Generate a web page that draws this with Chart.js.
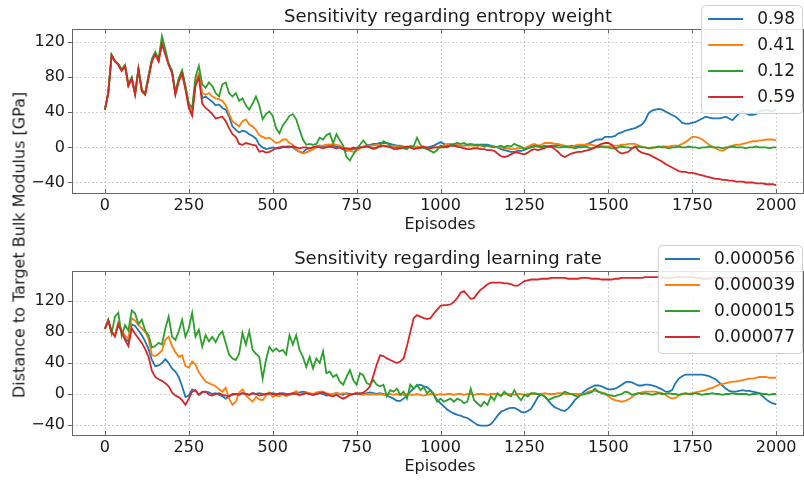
<!DOCTYPE html>
<html lang="en">
<head>
    <meta charset="UTF-8">
    <title>Sensitivity</title>
    <script src="https://cdn.jsdelivr.net/npm/chart.js"></script>
    <style>
        body { margin: 0; background: #fff; overflow: hidden; }
        #wrap { position: relative; width: 804px; height: 480px; }
        canvas { position: absolute; left: 0; }
        #ylabel {
            position: absolute; left: 19px; top: 245px;
            transform: translate(-50%, -50%) rotate(-90deg);
            font: 16px "DejaVu Sans", sans-serif; color: #1a1a1a; white-space: nowrap;
        }
    </style>
</head>
<body>
<div id="wrap">
    <canvas id="entropyChart" width="804" height="240" style="top:0"></canvas>
    <canvas id="lrChart" width="804" height="240" style="top:240px"></canvas>
    <div id="ylabel">Distance to Target Bulk Modulus [GPa]</div>
</div>

<script>
    // episodes every 10 steps, 0..2000
    const episodes = Array.from({length: 201}, (_, i) => i * 10);
    const xTicks = [0, 250, 500, 750, 1000, 1250, 1500, 1750, 2000];
    const yTicks = [-40, 0, 40, 80, 120];
    const colors = ['#1f77b4', '#ff7f0e', '#2ca02c', '#d62728'];

    // top panel: entropy weight
    const entLabels = ['0.98', '0.41', '0.12', '0.59'];
    const ent098 = [
        43, 62, 105, 98, 95, 88, 93, 71, 79, 61,
        89, 65, 61, 80, 99, 107, 99, 120, 108, 95,
        86, 61, 77, 86, 68, 48, 40, 75, 82, 56,
        58, 55, 52, 48, 49, 45, 43, 35, 24, 20,
        17, 19, 18, 15, 13, 10, 3, 0, -2, -1,
        0, -1, -1, 0, 1, 1, 0, -3, -5, -6,
        -2, -1, 0, 1, 2, 1, 2, 3, 2, 1,
        0, -2, -4, -3, -2, -1, 0, 1, 2, 3,
        4, 4, 5, 5, 5, 4, 3, 2, 2, 1,
        0, 1, 0, 0, -1, 0, 0, 1, 2, 4,
        6, 4, 2, 2, 2, 2, 2, 2, 3, 3,
        3, 3, 3, 3, 3, 2, 1, 0, -2, -3,
        -4, -5, -5, -4, -4, -3, -1, 1, 2, 1,
        0, 1, 1, 2, 2, 3, 2, 1, 1, 2,
        1, 1, 2, 3, 4, 6, 8, 9, 9, 12,
        12, 12, 13, 16, 17, 19, 20, 21, 22, 24,
        26, 31, 39, 42, 43, 44, 43, 41, 39, 37,
        35, 32, 28, 27, 27, 28, 29, 31, 33, 35,
        34, 33, 33, 33, 34, 35, 33, 31, 35, 39,
        41, 39, 37, 37, 38, 41, 42, 43, 42, 41,
        44
    ];
    const ent041 = [
        43, 62, 105, 98, 95, 88, 93, 71, 79, 61,
        89, 65, 61, 80, 99, 107, 99, 121, 109, 95,
        86, 62, 77, 86, 69, 49, 42, 76, 84, 62,
        60, 62, 58, 56, 55, 53, 48, 38, 30, 27,
        24, 30, 32, 26, 24, 20, 14, 12, 10, 11,
        8, 5, 6, 9, 9, 5, 3, -2, -5, -7,
        -6, -4, -2, 0, 2, 2, 3, 3, 4, 3,
        2, 0, -3, -4, -5, -4, -1, 1, 2, 2,
        2, 3, 2, 2, 2, 1, 1, 1, 1, 0,
        0, 0, 0, 1, 0, 0, 0, -1, 0, 0,
        0, 2, 4, 4, 3, 3, 2, 2, 2, 2,
        2, 2, 2, 1, 2, 1, 1, 0, 0, -1,
        -1, -2, -2, -1, -1, -1, 1, 3, 4, 2,
        3, 5, 5, 5, 4, 4, 3, 2, 1, 1,
        2, 3, 3, 3, 3, 3, 2, 2, 1, 1,
        1, 2, 2, 2, 3, 3, 4, 4, 4, 2,
        1, 0, -1, -1, 0, 0, 1, 1, 1, 2,
        2, 2, 4, 6, 9, 12, 12, 11, 9, 6,
        3, 1, -1, -3, -4, -2, 1, 2, 3, 3,
        4, 5, 6, 7, 7, 8, 8, 9, 9, 9,
        8
    ];
    const ent012 = [
        43, 62, 106, 99, 95, 89, 94, 72, 80, 62,
        90, 66, 62, 82, 101, 109, 101, 127, 112, 95,
        88, 63, 79, 88, 70, 50, 45, 80, 93, 72,
        68, 74, 70, 62, 58, 72, 74, 62, 58, 62,
        53, 56, 48, 43, 50, 58, 48, 32, 38, 41,
        36, 22, 16, 25, 30, 36, 38, 32, 20, 9,
        3, 4, 3, 4, 11, 9, 14, 16, 5, 15,
        8, 2, -11, -15, -8, -2, 3, 8, 3, 0,
        -2, -1, 2, 7, 5, 2, -2, 0, 0, -1,
        -2, 2, 1, 11, 3, -1, -2, -4, -6, -3,
        2, 1, 0, 3, 4, 5, 4, 5, 3, 4,
        3, 2, 3, 1, 2, 1, 0, 1, 2, 0,
        2, 1, 4, 2, 1, -2, -1, 0, 1, 2,
        1, 2, 1, 0, 1, 0, 0, 1, 0, 0,
        -1, 0, 0, 1, 0, -1, 0, 0, 1, 0,
        0, -1, -1, 0, 1, 0, 0, -1, 0, 1,
        0, 0, -1, 0, 0, 1, 0, 0, -1, 0,
        0, 1, 0, 0, 1, 0, 0, -1, 0, 0,
        1, 0, 0, 0, -1, 0, 0, 1, 0, 0,
        0, -1, 0, 0, 1, 0, 0, 0, -1, 0,
        0
    ];
    const ent059 = [
        43, 62, 105, 98, 94, 87, 93, 70, 78, 60,
        89, 64, 60, 79, 98, 106, 98, 118, 106, 94,
        85, 60, 75, 84, 66, 45, 36, 70, 80, 50,
        45, 42, 38, 33, 34, 35, 30, 22, 15, 12,
        4, 3, 5, 4, 3, 2, -5, -4, -6, -5,
        -3, -1, 0, 1, 0, 0, 1, 0, -1, 0,
        0, -1, 0, 1, 0, -1, 0, 1, 0, -1,
        0, -2, -1, -2, 0, -1, 0, 0, 1, 0,
        -1, 0, 1, 2, 1, 0, -1, -2, -1, 0,
        1, 0, -2, -1, 0, 1, -1, -1, 0, 0,
        0, 0, 1, 2, 2, 1, 0, -1, -2, -2,
        -1, -1, -2, -2, -3, -3, -4, -7, -10, -11,
        -10, -8, -6, -6, -7, -8, -6, -3, -2, -3,
        -2, -1, 1, 1, -2, -5, -9, -11, -9, -7,
        -6, -5, -5, -4, -3, -2, 0, 2, 4, 5,
        5, 3, -1, -5, -7, -6, -5, -1, 1, -4,
        -6, -7, -8, -10, -12, -14, -16, -19, -21, -23,
        -25, -27, -28, -28, -29, -29, -30, -31, -32, -33,
        -34, -35, -36, -36, -37, -37, -38, -38, -39, -39,
        -39, -40, -40, -40, -41, -41, -41, -42, -42, -42,
        -43
    ];

    // bottom panel: learning rate
    const lrLabels = ['0.000056', '0.000039', '0.000015', '0.000077'];
    const lr056 = [
        84, 95, 81, 76, 92, 82, 72, 68, 90, 88,
        82, 76, 68, 58, 44, 36, 37, 40, 45, 40,
        33, 29, 22, 10, -4, -2, 6, 4, -1, 3,
        3, 2, 0, 1, -1, -3, -6, -3, -1, 0,
        0, 1, 0, -1, 1, 0, 1, 0, -1, 0,
        1, 0, 0, 1, 0, -1, 0, 1, 2, 3,
        2, 0, -1, 0, 1, 0, -2, -1, 0, 1,
        0, -1, 1, 0, 0, 0, 1, 0, 1, 2,
        1, 0, 1, 0, -2, -4, -6, -9, -9, -6,
        -2, 3, 7, 11, 12, 10, 9, 5, 0, -8,
        -12, -16, -20, -23, -25, -27, -28, -30, -31, -34,
        -37, -40, -41, -41, -41, -39, -34, -28, -23, -21,
        -19, -18, -18, -20, -23, -24, -22, -19, -12, -4,
        0, -3, -8, -13, -17, -19, -21, -22, -19, -14,
        -8, -4, 0, 4, 7, 9, 11, 11, 10, 8,
        6, 6, 7, 9, 12, 15, 16, 15, 13, 11,
        11, 12, 12, 11, 10, 8, 6, 3, 3, 5,
        14, 20, 23, 25, 25, 25, 25, 25, 25, 24,
        23, 21, 19, 15, 11, 7, 4, 3, 3, 4,
        5, 4, 4, 3, 2, 1, -3, -7, -10, -12,
        -13
    ];
    const lr039 = [
        84, 95, 81, 76, 92, 82, 75, 72, 98, 95,
        89, 85, 80, 72, 50, 49, 52, 56, 70, 74,
        62, 54, 48, 50, 36, 34, 42, 38, 28, 22,
        16, 14, 12, 10, 6, 3, 8, -6, -14, -10,
        2, 6, -2, -6, -10, -4, -7, -8, -2, 2,
        -4, -2, -3, 0, -3, -1, 1, 4, -2, 0,
        2, 1, 0, 2, 3, 3, 1, 0, 0, 1,
        0, 1, 0, -1, 0, 1, 0, -1, 0, -1,
        0, -1, 0, -1, -1, 0, -1, 0, -1, -1,
        0, -1, -1, 0, -1, -2, -1, 0, -1, -1,
        0, -1, 0, 0, -1, 0, 0, -1, 0, 0,
        -1, 0, 0, 0, -1, 0, 0, 0, -1, 0,
        0, 0, -1, 0, 0, -1, 0, 0, 0, 0,
        0, 1, 0, 0, 0, 1, 1, 0, 0, 0,
        0, 0, 0, 0, 3, 4, 4, 3, 2, 1,
        -3, -6, -8, -9, -10, -9, -7, -4, -1, 1,
        2, 3, 3, 3, 3, 2, 1, -1, -4, -6,
        -5, -2, 0, 0, 0, 1, 2, 3, 4, 5,
        7, 8, 10, 12, 13, 14, 15, 16, 16, 17,
        18, 19, 20, 20, 21, 22, 22, 22, 21, 21,
        21
    ];
    const lr015 = [
        84, 96, 78, 100, 105, 75, 89, 82, 108, 104,
        90, 96, 82, 76, 60, 62, 66, 64, 85, 100,
        74, 70, 81, 96, 74, 85, 105, 74, 83, 61,
        76, 68, 74, 67, 76, 81, 66, 51, 46, 44,
        52, 79, 64, 81, 57, 52, 48, 20, 44, 61,
        55, 59, 55, 57, 51, 76, 64, 76, 57, 48,
        35, 48, 33, 46, 40, 55, 27, 29, 22, 25,
        16, 12, 22, 31, 18, 12, 27, 24, 14, 12,
        18, 12, 10, 12, -3, 5, 3, 7, -1, 3,
        -6, 12, 7, 12, 5, 9, 1, 5, -1, -10,
        -6, -10, -8, -6, -10, -6, -8, -12, -10, 7,
        -8, -12, -16, -10, -14, -3, -8, 1, -3, 3,
        -1, -3, 5, -3, -8, -1, -3, 1, 1, 0,
        -1, -3, -8, -6, -4, -3, -1, 3, 1, 0,
        -2, -3, -1, 0, 1, 2, 7, 3, 1, 0,
        -1, -2, -3, -1, 0, 3, 2, -1, 0, 1,
        0, 1, 0, -1, 0, 1, 0, 0, 1, 0,
        0, -1, 0, 1, 0, 0, 1, 0, -1, 0,
        0, 1, 0, 0, -1, 0, 0, 1, 0, 0,
        0, 0, -1, 0, 0, 1, 0, 0, -1, 0,
        0
    ];
    const lr077 = [
        84, 95, 80, 74, 90, 80, 70, 62, 85, 78,
        72, 66, 58, 48, 30, 22, 19, 17, 14, 10,
        2, -2, -4, -8, -14, -6, 3, 5, -1, 2,
        3, -1, -2, 0, 1, -1, -2, -3, 0, 0,
        -1, 1, 0, -1, 1, 0, -2, -1, 0, 1,
        0, -1, 1, 0, -1, 0, 1, 0, -1, 0,
        1, 0, -1, 0, 1, 2, 0, -2, -3, -1,
        -4, -6, -4, -1, 0, 1, 0, 2, 5, 10,
        24, 38, 50, 49, 46, 44, 42, 40, 42, 46,
        62, 80, 98, 102, 100, 98, 97, 98, 104, 109,
        114, 115, 115, 116, 119, 124, 131, 133, 128, 123,
        124, 130, 135, 138, 142, 144, 144, 144, 144, 143,
        143, 142, 140, 140, 143, 146, 147, 148, 148, 148,
        149, 149, 149, 150, 150, 150, 150, 150, 149, 149,
        149, 149, 150, 150, 150, 149, 149, 149, 148, 148,
        148, 148, 149, 149, 150, 150, 150, 150, 150, 150,
        150, 151, 151, 151, 151, 151, 150, 150, 150, 150,
        151, 151, 151, 151, 151, 151, 150, 150, 149, 149,
        149, 150, 150, 150, 150, 150, 150, 150, 150, 150,
        150, 150, 150, 150, 150, 150, 150, 150, 150, 150,
        150
    ];

    Chart.defaults.font.family = '"DejaVu Sans", sans-serif';
    Chart.defaults.font.size = 16;
    Chart.defaults.color = '#1a1a1a';

    const fmt = v => String(v).replace('-', '\u2212');

    // dotted grid, frame, title, x label and legend
    const decor = {
        id: 'decor',
        beforeDatasetsDraw(chart, args, opts) {
            const {ctx, chartArea: a, scales: {x, y}} = chart;
            ctx.save();
            ctx.strokeStyle = '#c4c4c4';
            ctx.lineWidth = 0.8;
            ctx.setLineDash([2, 2]);
            ctx.beginPath();
            xTicks.forEach(v => {
                const px = Math.round(x.getPixelForValue(v)) + 0.5;
                ctx.moveTo(px, a.top); ctx.lineTo(px, a.bottom);
            });
            yTicks.forEach(v => {
                const py = Math.round(y.getPixelForValue(v)) + 0.5;
                ctx.moveTo(a.left, py); ctx.lineTo(a.right, py);
            });
            ctx.stroke();
            ctx.restore();
        },
        afterDatasetsDraw(chart, args, opts) {
            const {ctx, chartArea: a, scales: {x, y}} = chart;
            ctx.save();
            ctx.strokeStyle = '#666';
            ctx.lineWidth = 1;
            ctx.strokeRect(a.left + 0.5, a.top + 0.5, a.width, a.height);
            ctx.beginPath();
            xTicks.forEach(v => {
                const px = Math.round(x.getPixelForValue(v)) + 0.5;
                ctx.moveTo(px, a.bottom); ctx.lineTo(px, a.bottom - 4);
                ctx.moveTo(px, a.top); ctx.lineTo(px, a.top + 4);
            });
            yTicks.forEach(v => {
                const py = Math.round(y.getPixelForValue(v)) + 0.5;
                ctx.moveTo(a.left - 4, py); ctx.lineTo(a.left, py);
            });
            ctx.stroke();

            ctx.fillStyle = '#1a1a1a';
            ctx.textAlign = 'center';
            ctx.textBaseline = 'middle';
            ctx.font = '18px "DejaVu Sans", sans-serif';
            ctx.fillText(opts.title, 448, opts.titleY);
            ctx.font = '16px "DejaVu Sans", sans-serif';
            ctx.fillText('Episodes', 440, a.bottom + 32);

            // legend box in the upper right corner
            const ds = chart.data.datasets.slice().sort((p, q) => p.legendIndex - q.legendIndex);
            ctx.font = '17px "DejaVu Sans", sans-serif';
            const tw = Math.max(...ds.map(d => ctx.measureText(d.label).width));
            const right = 803, top = 5;
            const w = 7 + 35 + 14 + tw + 8;
            const h = 108;
            ctx.fillStyle = 'rgba(255,255,255,0.85)';
            ctx.strokeStyle = '#d0d0d0';
            ctx.beginPath();
            ctx.roundRect(right - w + 0.5, top + 0.5, w - 1, h, 4);
            ctx.fill();
            ctx.stroke();
            ds.forEach((d, i) => {
                const ry = top + 14 + i * 26;
                const lx = right - w + 7;
                ctx.strokeStyle = d.borderColor;
                ctx.lineWidth = 2;
                ctx.beginPath();
                ctx.moveTo(lx, ry); ctx.lineTo(lx + 35, ry);
                ctx.stroke();
                ctx.fillStyle = '#1a1a1a';
                ctx.textAlign = 'left';
                ctx.fillText(d.label, lx + 49, ry + 1);
            });
            ctx.restore();
        }
    };

    function makeDatasets(labels, series) {
        return series.map((vals, i) => ({
            label: labels[i],
            legendIndex: i,
            order: 4 - i,
            data: episodes.map((e, k) => ({x: e, y: vals[k]})),
            borderColor: colors[i],
            borderWidth: 1.8,
            pointRadius: 0,
            tension: 0,
            fill: false
        }));
    }

    function makeChart(id, labels, series, yMin, yMax, padTop, xHeight, title, titleY) {
        return new Chart(document.getElementById(id), {
            type: 'line',
            data: {datasets: makeDatasets(labels, series)},
            plugins: [decor],
            options: {
                responsive: false,
                animation: false,
                layout: {padding: {top: padTop, right: 1, left: 0, bottom: 0}},
                plugins: {
                    legend: {display: false},
                    tooltip: {enabled: false},
                    decor: {title: title, titleY: titleY}
                },
                scales: {
                    x: {
                        type: 'linear',
                        min: -98,
                        max: 2080,
                        afterBuildTicks: s => { s.ticks = xTicks.map(v => ({value: v})); },
                        afterFit: s => { s.height = xHeight; },
                        grid: {display: false, drawTicks: false},
                        border: {display: false},
                        ticks: {padding: 3, maxRotation: 0, callback: fmt}
                    },
                    y: {
                        min: yMin,
                        max: yMax,
                        afterBuildTicks: s => { s.ticks = yTicks.map(v => ({value: v})); },
                        afterFit: s => { s.width = 72; },
                        grid: {display: false, drawTicks: false},
                        border: {display: false},
                        ticks: {padding: 7, callback: fmt}
                    }
                }
            }
        });
    }

    makeChart('entropyChart', entLabels, [ent098, ent041, ent012, ent059], -52, 135, 29, 47,
        'Sensitivity regarding entropy weight', 17);
    makeChart('lrChart', lrLabels, [lr056, lr039, lr015, lr077], -53, 159, 31, 45,
        'Sensitivity regarding learning rate', 19);
</script>
</body>
</html>
